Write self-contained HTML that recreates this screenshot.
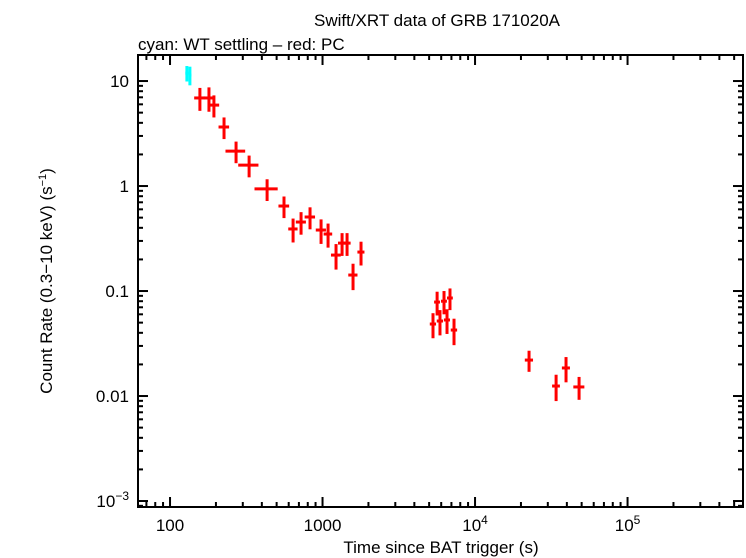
<!DOCTYPE html>
<html><head><meta charset="utf-8">
<style>
body{margin:0;background:#fff;}
svg{display:block;font-family:"Liberation Sans",sans-serif;}
</style></head>
<body>
<svg id="chart" width="746" height="558" xmlns="http://www.w3.org/2000/svg">
<text x="437" y="26" font-size="17" text-anchor="middle">Swift/XRT data of GRB 171020A</text>
<text x="138" y="50" font-size="17">cyan: WT settling – red: PC</text>
<text transform="translate(52,281) rotate(-90)" font-size="17" text-anchor="middle">Count Rate (0.3−10 keV) (s<tspan dy="-6" font-size="11">−1</tspan><tspan dy="6">)</tspan></text>
<text x="441" y="553" font-size="17" text-anchor="middle">Time since BAT trigger (s)</text>
<g id="marks"></g>
<rect x="138" y="55" width="605" height="452" fill="none" stroke="#000" stroke-width="2"/>
<g id="axes"></g>
</svg>
<script>
const wtTime=[129,135];
const wtTimeErr=[3,3];
const wtRate=[11.9,11.4];
const wtRateErr=[2.0,2.3];
const pcTime=[157,180,194,226,271,330,433,559,641,723,828,978,1087,1226,1343,1448,1585,1788,5300,5640,5890,6260,6550,6850,7280,22600,34000,39500,48100];
const pcTimeErr=[13,14,16,18,40,50,75,45,45,55,65,75,70,90,80,80,110,95,250,250,280,280,300,300,350,1400,2000,2400,4000];
const pcRate=[6.9,6.9,5.9,3.65,2.15,1.58,0.94,0.645,0.39,0.454,0.507,0.381,0.349,0.22,0.286,0.286,0.142,0.235,0.0485,0.0785,0.0518,0.080,0.053,0.0858,0.0425,0.022,0.01245,0.0185,0.0122];
const pcRateErr=[1.7,1.8,1.4,0.85,0.5,0.37,0.22,0.15,0.1,0.11,0.12,0.1,0.09,0.06,0.07,0.07,0.04,0.06,0.013,0.02,0.014,0.02,0.014,0.02,0.012,0.005,0.0035,0.005,0.003];
const xTickVals=[100,1000,1e4,1e5];
const xTickLabels=["100","1000","10^4","10^5"];
const yTickVals=[10,1,0.1,0.01,0.001];
const yTickLabels=["10","1","0.1","0.01","10^−3"];

const L=138,R=743,T=55,B=507;
const xmin=1.79,xmax=5.757,ymin=-3.057,ymax=1.248;
function xs(v){return L+(Math.log10(v)-xmin)/(xmax-xmin)*(R-L);}
function ys(v){return B-(Math.log10(v)-ymin)/(ymax-ymin)*(B-T);}
const NS="http://www.w3.org/2000/svg";
const marks=document.getElementById('marks'),axes=document.getElementById('axes');
function line(p,x1,y1,x2,y2,c,w){const l=document.createElementNS(NS,'line');l.setAttribute('x1',x1);l.setAttribute('y1',y1);l.setAttribute('x2',x2);l.setAttribute('y2',y2);l.setAttribute('stroke',c);l.setAttribute('stroke-width',w);p.appendChild(l);return l;}
function series(t,te,r,re,c,name){
 for(let i=0;i<t.length;i++){
  const g=document.createElementNS(NS,'g');
  
  
  const cx=xs(t[i]),cy=ys(r[i]);
  line(g,xs(t[i]-te[i]),cy,xs(t[i]+te[i]),cy,c,3);
  line(g,cx,ys(r[i]+re[i]),cx,ys(Math.max(r[i]-re[i],1e-6)),c,3);
  marks.appendChild(g);
 }
}
series(wtTime,wtTimeErr,wtRate,wtRateErr,'#00ffff','wt');
series(pcTime,pcTimeErr,pcRate,pcRateErr,'#ff0000','pc');
function lbl(x,y,s,anchor,name){
 const tx=document.createElementNS(NS,'text');
 
 
 tx.setAttribute('x',x);tx.setAttribute('y',y);tx.setAttribute('font-size','17');tx.setAttribute('text-anchor',anchor);
 if(s.indexOf('^')>=0){const p=s.split('^');tx.appendChild(document.createTextNode(p[0]));const sp=document.createElementNS(NS,'tspan');sp.setAttribute('dy','-7');sp.setAttribute('font-size','12');sp.textContent=p[1];tx.appendChild(sp);}
 else tx.textContent=s;
 axes.appendChild(tx);
}
// x ticks
for(let d=1;d<=5;d++)for(let m=1;m<10;m++){const v=m*Math.pow(10,d);const x=xs(v);if(x<L||x>R)continue;const len=m===1?10:5;line(axes,x,B,x,B-len,'#000',2);line(axes,x,T,x,T+len,'#000',2);}
xTickVals.forEach((v,i)=>lbl(xs(v),B+24,xTickLabels[i],'middle','x-tick-label'));
// y ticks
for(let d=-4;d<=1;d++)for(let m=1;m<10;m++){const v=m*Math.pow(10,d);const y=ys(v);if(y<T||y>B)continue;const len=m===1?10:5;line(axes,L,y,L+len,y,'#000',2);line(axes,R,y,R-len,y,'#000',2);}
yTickVals.forEach((v,i)=>lbl(L-9,ys(v)+6,yTickLabels[i],'end','y-tick-label'));
</script>
</body></html>
